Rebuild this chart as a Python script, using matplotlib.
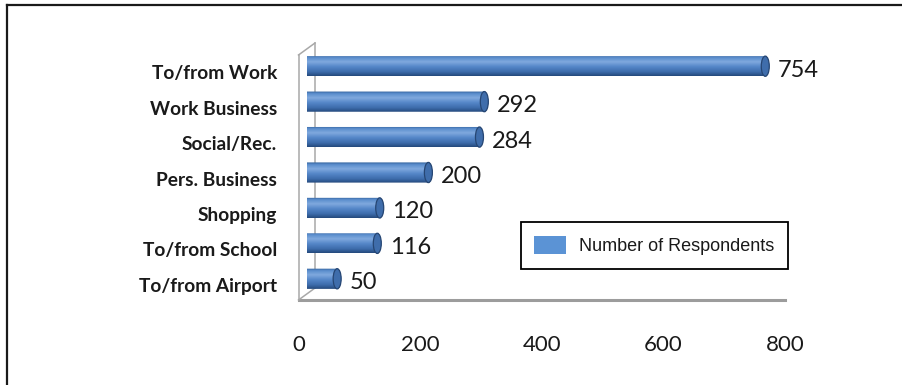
import numpy as np
import matplotlib
matplotlib.use("Agg")
import matplotlib.pyplot as plt
from matplotlib.patches import Polygon, Ellipse, Patch
from matplotlib.lines import Line2D
from matplotlib.colors import LinearSegmentedColormap
from matplotlib.transforms import ScaledTranslation

# ---- data ----
categories = ["To/from Work", "Work Business", "Social/Rec.", "Pers. Business",
              "Shopping", "To/from School", "To/from Airport"]
respondents = [754, 292, 284, 200, 120, 116, 50]
x_ticks = [0, 200, 400, 600, 800]
series_name = "Number of Respondents"

# ---- canvas (pixel based layout) ----
W, H, DPI = 902, 385, 100
fig = plt.figure(figsize=(W / DPI, H / DPI), dpi=DPI, facecolor="white")


def rect(left, top, right, bottom):
    return [left / W, 1 - bottom / H, (right - left) / W, (bottom - top) / H]


# depth of the pseudo-3D box (pixels) and plane placement
DEPTH_X, DEPTH_Y = 16.5, 12.0
FRONT = (298.5, 55, 785, 300)

# front plane: floor edge, wall edge and value axis labels
ax_front = fig.add_axes(rect(*FRONT))
ax_front.set_xlim(0, 800)
ax_front.set_ylim(0, 1)
ax_front.patch.set_visible(False)
for s in ("top", "right"):
    ax_front.spines[s].set_visible(False)
ax_front.spines["left"].set_color("#a8a8a8")
ax_front.spines["left"].set_linewidth(1.1)
ax_front.spines["bottom"].set_color("#9c9c9c")
ax_front.spines["bottom"].set_linewidth(2.2)
ax_front.set_xticks(x_ticks)
ax_front.set_xticklabels([str(t) for t in x_ticks])
ax_front.set_yticks([])
ax_front.tick_params(axis="x", length=0, pad=25, labelsize=16, labelcolor="#1a1a1a")
for lab in ax_front.get_xticklabels():
    lab.set_fontfamily("Lato")

# back wall edge and the two diagonals joining it to the front plane
fl, ft, fr, fb = FRONT
wall = dict(color="#a8a8a8", lw=1.1, transform=fig.transFigure, zorder=1)
fig.add_artist(Line2D([(fl + DEPTH_X) / W] * 2,
                      [1 - (fb - DEPTH_Y) / H, 1 - (ft - DEPTH_Y) / H], **wall))
fig.add_artist(Line2D([fl / W, (fl + DEPTH_X) / W],
                      [1 - ft / H, 1 - (ft - DEPTH_Y) / H], **wall))
fig.add_artist(Line2D([fl / W, (fl + DEPTH_X) / W],
                      [1 - fb / H, 1 - (fb - DEPTH_Y) / H], **wall))

# bar plane sits half way into the depth
bx, by = DEPTH_X / 2, DEPTH_Y / 2
ax = fig.add_axes(rect(fl + bx, 48.5, fr + bx, 296.5), zorder=3)
ax.patch.set_visible(False)
for s in ax.spines.values():
    s.set_visible(False)

cyl = LinearSegmentedColormap.from_list(
    "cyl",
    [(0.0, "#2f5e98"), (0.12, "#5a8dcd"), (0.32, "#80a9de"),
     (0.55, "#5587c9"), (0.8, "#3d6cab"), (1.0, "#23487b")])
grad = np.linspace(0, 1, 256).reshape(-1, 1)

px_per_unit = (fr - fl) / 800.0
cap_a = 4.0 / px_per_unit       # half width of the end caps, data units
hh = 0.285                      # half bar thickness, category units

for i, v in enumerate(respondents):
    t_left = np.linspace(np.pi / 2, 3 * np.pi / 2, 40)
    t_right = np.linspace(-np.pi / 2, np.pi / 2, 40)
    pts = np.vstack([
        np.column_stack([cap_a * np.cos(t_left), i + hh * np.sin(t_left)]),
        np.column_stack([v + cap_a * np.cos(t_right), i + hh * np.sin(t_right)]),
    ])
    body = Polygon(pts, closed=True, facecolor="none", edgecolor="none")
    ax.add_patch(body)
    im = ax.imshow(grad, cmap=cyl, extent=(-cap_a, v + cap_a, i + hh, i - hh),
                   origin="upper", aspect="auto", interpolation="bilinear", zorder=2)
    im.set_clip_path(body)
    ax.add_patch(Ellipse((v, i), 2 * cap_a, 2 * hh, facecolor="#3f6dab",
                         edgecolor="#264673", lw=0.9, zorder=3))
    ax.annotate(str(v), xy=(v, i), xytext=(12.5, -4), textcoords="offset pixels",
                ha="left", va="center", fontsize=17, fontfamily="Lato",
                color="#1a1a1a")

ax.set_xlim(0, 800)
ax.set_ylim(6.5, -0.5)
ax.set_xticks([])
ax.set_yticks(range(len(categories)))
ax.set_yticklabels(categories)
ax.tick_params(axis="y", length=0, pad=21.5)
shift = ScaledTranslation(0, -by / DPI, fig.dpi_scale_trans)
for lab in ax.get_yticklabels():
    lab.set_fontfamily("Lato")
    lab.set_fontweight("bold")
    lab.set_fontsize(13.8)
    lab.set_color("#1a1a1a")
    lab.set_transform(lab.get_transform() + shift)

# legend
leg = fig.legend(handles=[Patch(facecolor="#5b93d5", edgecolor="none")],
                 labels=[series_name], loc="center",
                 bbox_to_anchor=(654.5 / W, 1 - 245.5 / H),
                 prop={"family": "Liberation Sans", "size": 13},
                 frameon=True, fancybox=False, framealpha=1, edgecolor="black",
                 handlelength=1.78, handleheight=1.17, handletextpad=0.72,
                 borderpad=0.75)
leg.get_frame().set_linewidth(1.3)
for txt in leg.get_texts():
    txt.set_color("#1a1a1a")

# outer chart border (top and left edges are inside the canvas)
border = dict(color="#1a1a1a", lw=1.6, transform=fig.transFigure, zorder=10)
fig.add_artist(Line2D([7 / W, 1], [1 - 5 / H] * 2, **border))
fig.add_artist(Line2D([7 / W] * 2, [1 - 5 / H, 0], **border))

fig.savefig("out.png", dpi=DPI, facecolor="white")
